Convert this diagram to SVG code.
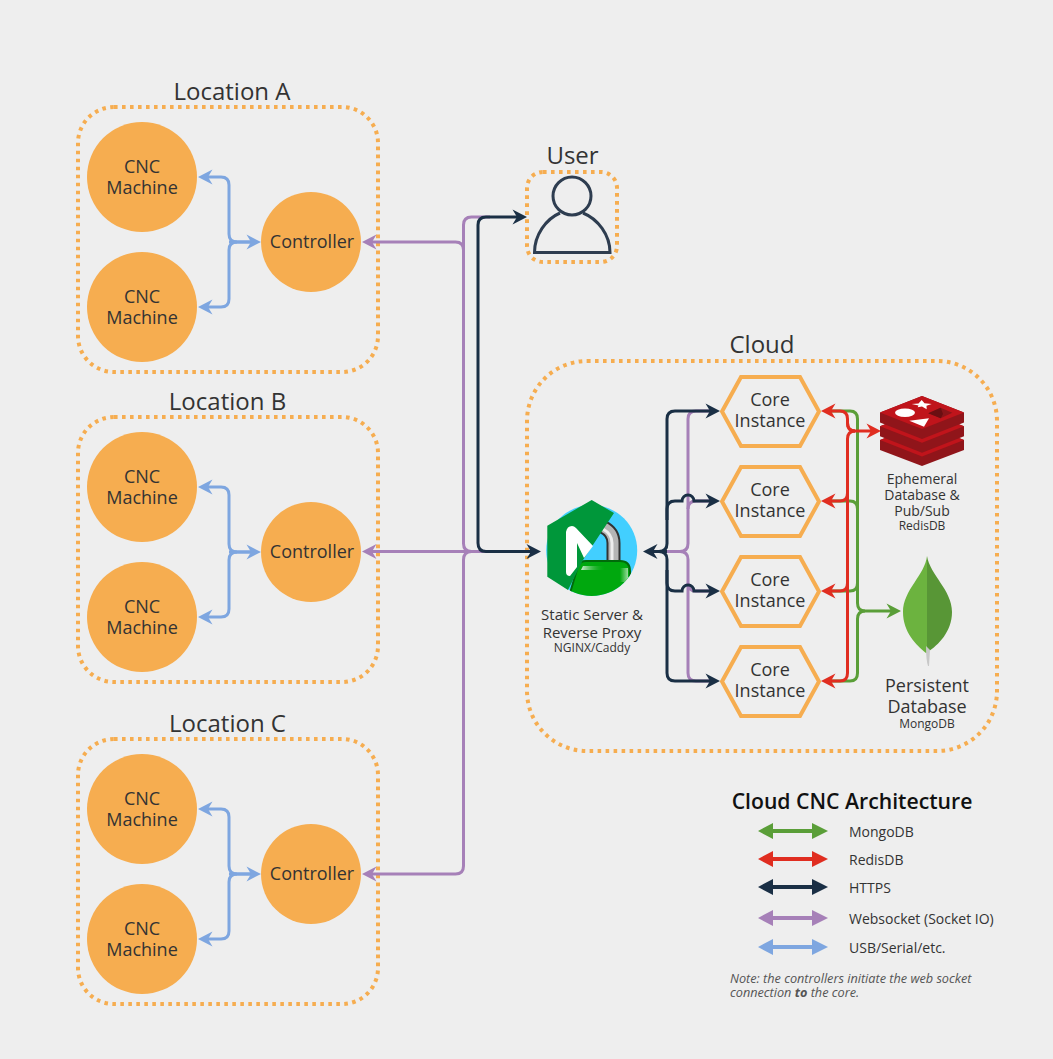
<svg xmlns="http://www.w3.org/2000/svg" width="1053" height="1059" viewBox="0 0 1053 1059">
<style>
text{font-family:"Open Sans","Liberation Sans",sans-serif;fill:#333;text-anchor:middle}
.n{font-size:18px}.t{font-size:24px}.s{font-size:14px}.m{font-size:15px}.x{font-size:12px}
.l{font-size:14px;text-anchor:start}
.o{font-size:12.7px;font-style:italic;text-anchor:start;fill:#555}
.c{fill:#F6AD50}
.z{fill:none;stroke:#F6AD50;stroke-width:4;stroke-dasharray:3.6 4.4}
.h{fill:#EEEEEE;stroke:#F6AD50;stroke-width:4}
.w{fill:none;stroke-width:3}
.bl{stroke:#7EA6E0;marker-end:url(#ab)}
.pu{stroke:#A680B8}.na{stroke:#1A2F45}.re{stroke:#E02D20}.gr{stroke:#5A9E38}
.rs{fill:#90151A}.rt{fill:#C0141B}
</style>
<defs>
<marker id="ab" markerUnits="userSpaceOnUse" markerWidth="16" markerHeight="16" viewBox="0 0 16 16" refX="11" refY="8" orient="auto"><path d="M0.5,0.5L15,8L0.5,15.5L5,8Z" fill="#7EA6E0"/></marker>
<marker id="ap" markerUnits="userSpaceOnUse" markerWidth="16" markerHeight="16" viewBox="0 0 16 16" refX="11" refY="8" orient="auto"><path d="M0.5,0.5L15,8L0.5,15.5L5,8Z" fill="#A680B8"/></marker>
<marker id="an" markerUnits="userSpaceOnUse" markerWidth="16" markerHeight="16" viewBox="0 0 16 16" refX="11" refY="8" orient="auto"><path d="M0.5,0.5L15,8L0.5,15.5L5,8Z" fill="#1A2F45"/></marker>
<marker id="ar" markerUnits="userSpaceOnUse" markerWidth="16" markerHeight="16" viewBox="0 0 16 16" refX="11" refY="8" orient="auto"><path d="M0.5,0.5L15,8L0.5,15.5L5,8Z" fill="#E02D20"/></marker>
<marker id="ag" markerUnits="userSpaceOnUse" markerWidth="16" markerHeight="16" viewBox="0 0 16 16" refX="11" refY="8" orient="auto"><path d="M0.5,0.5L15,8L0.5,15.5L5,8Z" fill="#5A9E38"/></marker>
<clipPath id="circ"><circle cx="591.7" cy="550.5" r="45.5"/></clipPath>
<linearGradient id="sheen" x1="0" x2="1" y1="0" y2="0"><stop offset="0" stop-color="#E8F5E8" stop-opacity=".9"/><stop offset="1" stop-color="#00A80E" stop-opacity="0"/></linearGradient>
<linearGradient id="edge" x1="0" x2="1" y1="0" y2="0"><stop offset="0" stop-color="#00A80E"/><stop offset="1" stop-color="#9ADB9E"/></linearGradient>
</defs>
<rect width="1053" height="1059" fill="#EEEEEE"/>

<g id="location-a"><rect class="z" x="78" y="107" width="300" height="265" rx="36"/><text class="t" x="232" y="100">Location A</text></g>
<g id="location-b"><rect class="z" x="78" y="417" width="300" height="265" rx="36"/><text class="t" x="227.5" y="410">Location B</text></g>
<g id="location-c"><rect class="z" x="78" y="739" width="300" height="265" rx="36"/><text class="t" x="227.5" y="732">Location C</text></g>
<g id="user-box"><rect class="z" x="527" y="172" width="90" height="90" rx="16"/><text class="t" x="572.5" y="164">User</text></g>
<g id="cloud"><rect class="z" x="527" y="361" width="470" height="390" rx="60"/><text class="t" x="762" y="353">Cloud</text></g>

<g id="connectors">
<g class="w">
<path class="bl" d="M257,242H237Q229,242 229,234V185Q229,177 221,177H202"/>
<path class="bl" d="M237,242Q229,242 229,250V299Q229,307 221,307H202"/>
<path class="bl" d="M229,242H257"/>
<path class="bl" d="M257,552H237Q229,552 229,544V495Q229,487 221,487H202"/>
<path class="bl" d="M237,552Q229,552 229,560V609Q229,617 221,617H202"/>
<path class="bl" d="M229,552H257"/>
<path class="bl" d="M257,874H237Q229,874 229,866V817Q229,809 221,809H202"/>
<path class="bl" d="M237,874Q229,874 229,882V931Q229,939 221,939H202"/>
<path class="bl" d="M229,874H257"/>
<path class="pu" d="M490,217H471.5Q463.5,217 463.5,225V543.5Q463.5,551.5 471.5,551.5H490"/>
<path class="pu" marker-end="url(#ap)" d="M463.5,250Q463.5,242 455.5,242H366"/>
<path class="pu" marker-end="url(#ap)" d="M490,551.5H366"/>
<path class="pu" marker-end="url(#ap)" d="M471.5,551.5Q463.5,551.5 463.5,560V866Q463.5,874 455.5,874H366"/>
<path class="pu" d="M650,551.5H680Q688,551.5 688,543.5V419Q688,411 696,411H710"/>
<path class="pu" d="M680,551.5Q688,551.5 688,559.5V673Q688,681 696,681H710"/>
<path class="pu" d="M688,509Q688,501 696,501H710"/>
<path class="pu" d="M688,583Q688,591 696,591H710"/>
<path class="na" marker-end="url(#an)" d="M478,300V225Q478,217 486,217H523"/>
<path class="na" marker-end="url(#an)" d="M478,300V543Q478,551.5 486,551.5H537"/>
<path class="na" marker-end="url(#an)" d="M667,551.5H647"/>
<path class="na" marker-end="url(#an)" d="M659,551.5Q667,551.5 667,543.5V419Q667,411 675,411H716"/>
<path class="na" marker-end="url(#an)" d="M667,520V509Q667,501 675,501H682A6,6 0 0 1 694,501H716"/>
<path class="na" marker-end="url(#an)" d="M659,551.5Q667,551.5 667,559.5V673Q667,681 675,681H716"/>
<path class="na" marker-end="url(#an)" d="M667,570V583Q667,591 675,591H682A6,6 0 0 1 694,591H716"/>
<path class="gr" marker-end="url(#ag)" d="M830,411H850Q857.5,411 857.5,419V603Q857.5,611 865,611H897"/>
<path class="gr" d="M865,611Q857.5,611 857.5,619V673Q857.5,681 850,681H830"/>
<path class="gr" d="M857.5,509Q857.5,501 850,501H830"/>
<path class="gr" d="M857.5,583Q857.5,591 850,591H830"/>
<path class="re" marker-end="url(#ar)" d="M855,431Q847.5,431 847.5,423V419Q847.5,411 840,411H825"/>
<path class="re" marker-end="url(#ar)" d="M847.5,423Q847.5,431 855,431H877"/>
<path class="re" marker-end="url(#ar)" d="M855,431Q847.5,431 847.5,439V673Q847.5,681 840,681H825"/>
<path class="re" marker-end="url(#ar)" d="M847.5,493Q847.5,501 840,501H825"/>
<path class="re" marker-end="url(#ar)" d="M847.5,583Q847.5,591 840,591H825"/>
</g>
</g>

<g id="cnc-a1"><circle class="c" cx="142" cy="177" r="55"/><text class="n" x="142" y="173">CNC</text><text class="n" x="142" y="194">Machine</text></g>
<g id="cnc-a2"><circle class="c" cx="142" cy="307" r="55"/><text class="n" x="142" y="303">CNC</text><text class="n" x="142" y="324">Machine</text></g>
<g id="controller-a"><circle class="c" cx="311" cy="242" r="50"/><text class="n" x="312" y="248">Controller</text></g>
<g id="cnc-b1"><circle class="c" cx="142" cy="487" r="55"/><text class="n" x="142" y="483">CNC</text><text class="n" x="142" y="504">Machine</text></g>
<g id="cnc-b2"><circle class="c" cx="142" cy="617" r="55"/><text class="n" x="142" y="613">CNC</text><text class="n" x="142" y="634">Machine</text></g>
<g id="controller-b"><circle class="c" cx="311" cy="552" r="50"/><text class="n" x="312" y="558">Controller</text></g>
<g id="cnc-c1"><circle class="c" cx="142" cy="809" r="55"/><text class="n" x="142" y="805">CNC</text><text class="n" x="142" y="826">Machine</text></g>
<g id="cnc-c2"><circle class="c" cx="142" cy="939" r="55"/><text class="n" x="142" y="935">CNC</text><text class="n" x="142" y="956">Machine</text></g>
<g id="controller-c"><circle class="c" cx="311" cy="874" r="50"/><text class="n" x="312" y="880">Controller</text></g>

<g id="user" fill="none" stroke="#2E3D50" stroke-width="3"><circle cx="572" cy="196" r="19"/><path d="M560,213C546,219 534.5,235 534.5,252.5H610C610,235 598,219 583,213"/></g>

<g id="core-1"><path class="h" d="M722,411.5L741,377H800L819,411.5L800,446H741Z"/><text class="n" x="770" y="406">Core</text><text class="n" x="770" y="427">Instance</text></g>
<g id="core-2"><path class="h" d="M722,501.5L741,467H800L819,501.5L800,536H741Z"/><text class="n" x="770" y="496">Core</text><text class="n" x="770" y="517">Instance</text></g>
<g id="core-3"><path class="h" d="M722,591.5L741,557H800L819,591.5L800,626H741Z"/><text class="n" x="770" y="586">Core</text><text class="n" x="770" y="607">Instance</text></g>
<g id="core-4"><path class="h" d="M722,681.5L741,647H800L819,681.5L800,716H741Z"/><text class="n" x="770" y="676">Core</text><text class="n" x="770" y="697">Instance</text></g>

<g id="proxy">
<circle cx="591.7" cy="550.5" r="45.5" fill="#42CFFF"/>
<g fill="none"><path d="M613.5,562V543Q613.5,532 603,527" stroke="#333" stroke-width="14"/><path d="M613.5,562V543Q613.5,532 603,527" stroke="#B5B5B5" stroke-width="10"/><path d="M612,562V543Q612,534 603,529" stroke="#EDEDED" stroke-width="3"/></g>
<g clip-path="url(#circ)"><path d="M568,600L578,566Q580,561 586,561H620Q630,561 630,571V600Z" fill="#00A80E" stroke="#006B0A" stroke-width="2"/>
<path d="M583,566H606L604,570H581Z" fill="url(#sheen)"/><path d="M620,568H628V582H620Z" fill="url(#edge)"/></g>
<path d="M591.7,500L614,513L583,560L568,590L547.3,576.7V525.7Z" fill="#00973A"/>
<path d="M566,532Q567,526 572,526Q574,526 576,528L593,546L584,558L577,543V567L570,576Q566,576 566,572Z" fill="#FFFFFF"/>
<text class="m" x="592" y="620">Static Server &amp;</text><text class="m" x="592" y="638">Reverse Proxy</text><text class="x" x="592" y="652">NGINX/Caddy</text>
</g>

<g id="redis">
<path class="rs" d="M880,440L922,423.5L964,440V450L922,466L880,450Z"/><path class="rt" d="M880,440L922,423.5L964,440L922,456.5Z"/>
<path class="rs" d="M880,426.2L922,409.7L964,426.2V436.2L922,452.7L880,436.2Z"/><path class="rt" d="M880,426.2L922,409.7L964,426.2L922,442.7Z"/>
<path class="rs" d="M880,412.5L922,396L964,412.5V422.5L922,439L880,422.5Z"/><path class="rt" d="M880,412.5L922,396L964,412.5L922,429Z"/>
<path d="M921.7,400L924.5,403.3L931.7,404L926.5,405.8L926.7,409.3L922,406.5L917.7,407.3L918.5,405.5L911.7,404L918.5,403.5Z" fill="#FFF"/>
<ellipse cx="905" cy="412.7" rx="10" ry="4.2" fill="#FFF"/>
<path d="M909.3,420.7L929,418.3L924,426.7Z" fill="#FFF"/>
<path d="M928.3,413.3L940.7,407.7L952.3,412.7L940.7,418.3Z" fill="#8A1519"/><path d="M928.3,413.3L940.7,407.7L943,414L940.7,418.3Z" fill="#6A0F12"/>
<text class="s" x="922" y="484">Ephemeral</text><text class="s" x="922" y="500">Database &amp;</text><text class="s" x="922" y="516">Pub/Sub</text><text class="x" x="922" y="530">RedisDB</text>
</g>

<g id="mongodb">
<path d="M927,556C925,575 903,590 903,612C903,632 916,645 926,653L928,653Z" fill="#6CB33F"/>
<path d="M927,556C930,575 952,590 952,612C952,632 938,645 928,652L927,653Z" fill="#589636"/>
<path d="M926,646L930,650L929,666H928Q926,660 926,646Z" fill="#C8C8C8"/>
<text class="n" x="927" y="692">Persistent</text><text class="n" x="927" y="713">Database</text><text class="x" x="927" y="728">MongoDB</text>
</g>

<g id="legend">
<text x="852" y="809" font-size="21.2" font-weight="600" style="fill:#111">Cloud CNC Architecture</text>
<path d="M758,831L773,823V829H812V823L828,831L812,839V833H773V839Z" fill="#5A9E38"/>
<path d="M758,859L773,851V857H812V851L828,859L812,867V861H773V867Z" fill="#E02D20"/>
<path d="M758,887L773,879V885H812V879L828,887L812,895V889H773V895Z" fill="#1A2F45"/>
<path d="M758,918L773,910V916H812V910L828,918L812,926V920H773V926Z" fill="#A680B8"/>
<path d="M758,947L773,939V945H812V939L828,947L812,955V949H773V955Z" fill="#7EA6E0"/>
<text class="l" x="849" y="837">MongoDB</text>
<text class="l" x="849" y="865">RedisDB</text>
<text class="l" x="849" y="893">HTTPS</text>
<text class="l" x="849" y="924">Websocket (Socket IO)</text>
<text class="l" x="849" y="953">USB/Serial/etc.</text>
<text class="o" x="730" y="983">Note: the controllers initiate the web socket</text>
<text class="o" x="730" y="997">connection <tspan font-weight="700">to</tspan> the core.</text>
</g>
</svg>
